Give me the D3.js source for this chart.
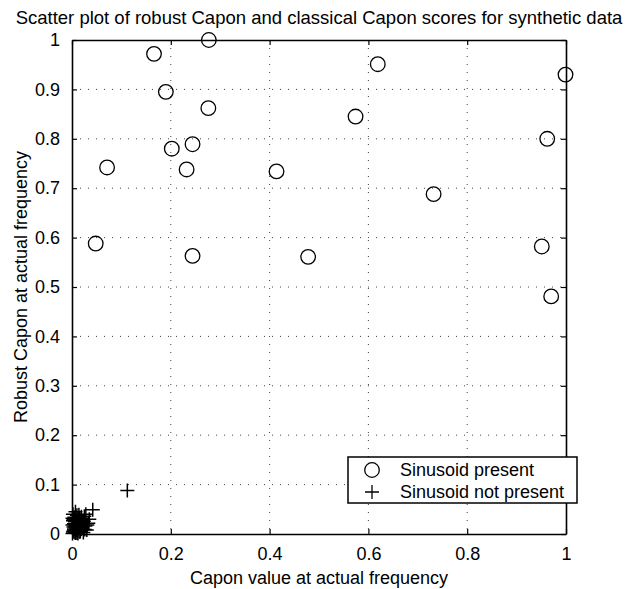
<!DOCTYPE html>
<html>
<head>
<meta charset="utf-8">
<script src="https://cdn.jsdelivr.net/npm/d3@7"></script>
<style>
  body { margin: 0; background: #fff; }
  svg text { font-family: "Liberation Sans", Arial, Helvetica, sans-serif; fill: #000; }
</style>
</head>
<body>
<div id="chart"></div>
<script>
// data
var presentX = [0.166, 0.277, 0.190, 0.276, 0.071, 0.202, 0.244, 0.232, 0.414, 0.048, 0.244, 0.478,
                0.619, 0.999, 0.574, 0.962, 0.732, 0.951, 0.970];
var presentY = [0.972, 1.000, 0.895, 0.862, 0.742, 0.780, 0.789, 0.738, 0.734, 0.588, 0.563, 0.561,
                0.951, 0.930, 0.845, 0.800, 0.688, 0.582, 0.481];

var notPresentX = [0.112, 0.042, 0.035, 0.028, 0.031, 0.024, 0.019, 0.022, 0.015, 0.012, 0.009, 0.006,
                   0.004, 0.002, 0.001, 0.003, 0.008, 0.011, 0.014, 0.017, 0.020, 0.026, 0.010, 0.005,
                   0.007, 0.013, 0.016, 0.018, 0.009, 0.004, 0.021, 0.025, 0.012, 0.006, 0.002, 0.015,
                   0.030, 0.008, 0.003, 0.011, 0.001, 0.005, 0.018, 0.023, 0.002, 0.007, 0.010, 0.014,
                   0.001, 0.004, 0.027, 0.033, 0.006, 0.019, 0.003, 0.012, 0.008, 0.016];
var notPresentY = [0.088, 0.049, 0.030, 0.040, 0.018, 0.026, 0.035, 0.012, 0.022, 0.031, 0.016, 0.025,
                   0.010, 0.004, 0.018, 0.029, 0.007, 0.020, 0.013, 0.006, 0.027, 0.009, 0.038, 0.034,
                   0.002, 0.024, 0.004, 0.017, 0.011, 0.021, 0.015, 0.036, 0.001, 0.014, 0.027, 0.033,
                   0.008, 0.028, 0.006, 0.012, 0.001, 0.019, 0.024, 0.003, 0.040, 0.045, 0.002, 0.039,
                   0.032, 0.008, 0.016, 0.022, 0.003, 0.010, 0.014, 0.006, 0.016, 0.030];

var xTicks = [0, 0.2, 0.4, 0.6, 0.8, 1];
var yTicks = [0, 0.1, 0.2, 0.3, 0.4, 0.5, 0.6, 0.7, 0.8, 0.9, 1];
var legendLabels = ["Sinusoid present", "Sinusoid not present"];

var W = 627, H = 589;
var margin = {left: 72, top: 40, right: 61, bottom: 55};
var width = W - margin.left - margin.right,
    height = H - margin.top - margin.bottom;

var svg = d3.select("#chart").append("svg")
    .attr("width", W)
    .attr("height", H);

var g = svg.append("g")
    .attr("transform", "translate(" + margin.left + "," + margin.top + ")");

var x = d3.scaleLinear().domain([0, 1]).range([0, width]);
var y = d3.scaleLinear().domain([0, 1]).range([height, 0]);

// dotted grid
g.selectAll(".gx").data(xTicks.slice(1, -1)).enter().append("line")
    .attr("x1", d => x(d)).attr("x2", d => x(d))
    .attr("y1", 0).attr("y2", height)
    .attr("stroke", "#444").attr("stroke-width", 1)
    .attr("stroke-dasharray", "1,7");
g.selectAll(".gy").data(yTicks.slice(1, -1)).enter().append("line")
    .attr("x1", 0).attr("x2", width)
    .attr("y1", d => y(d)).attr("y2", d => y(d))
    .attr("stroke", "#444").attr("stroke-width", 1)
    .attr("stroke-dasharray", "1,7");

var fmt = d => d3.format("~g")(d);

// axes, matlab style inward ticks on all four sides
var xAxis = g.append("g")
    .attr("transform", "translate(0," + height + ")")
    .call(d3.axisBottom(x).tickValues(xTicks).tickFormat(fmt).tickSizeInner(-5).tickSizeOuter(0).tickPadding(13));
var xTop = g.append("g")
    .call(d3.axisTop(x).tickValues(xTicks).tickFormat("").tickSizeInner(-5).tickSizeOuter(0));
var yAxis = g.append("g")
    .call(d3.axisLeft(y).tickValues(yTicks).tickFormat(fmt).tickSizeInner(-5).tickSizeOuter(0).tickPadding(12));
var yRight = g.append("g")
    .attr("transform", "translate(" + width + ",0)")
    .call(d3.axisRight(y).tickValues(yTicks).tickFormat("").tickSizeInner(-5).tickSizeOuter(0));

[xAxis, xTop, yAxis, yRight].forEach(function(a) {
  a.select(".domain").attr("stroke", "#000").attr("stroke-width", 1.6);
  a.selectAll(".tick line").attr("stroke", "#000").attr("stroke-width", 1.2);
  a.selectAll("text").style("font-size", "18px").attr("fill", "#000");
});

// not present: plus markers
g.selectAll(".plus")
    .data(notPresentX.map((v, i) => [v, notPresentY[i]]))
    .enter().append("path")
    .attr("transform", d => "translate(" + x(d[0]) + "," + y(d[1]) + ")")
    .attr("d", "M-7,0H7M0,-7V7")
    .attr("stroke", "#000").attr("stroke-width", 1.5).attr("fill", "none");

// present: open circles
g.selectAll(".circ")
    .data(presentX.map((v, i) => [v, presentY[i]]))
    .enter().append("circle")
    .attr("cx", d => x(d[0]))
    .attr("cy", d => y(d[1]))
    .attr("r", 7.3)
    .attr("fill", "none").attr("stroke", "#000").attr("stroke-width", 1.3);

// title and axis labels
svg.append("text")
    .attr("x", margin.left + width / 2).attr("y", 24)
    .attr("text-anchor", "middle").style("font-size", "18.5px")
    .text("Scatter plot of robust Capon and classical Capon scores for synthetic data");
svg.append("text")
    .attr("x", margin.left + width / 2).attr("y", 584)
    .attr("text-anchor", "middle").style("font-size", "18px")
    .text("Capon value at actual frequency");
svg.append("text")
    .attr("transform", "translate(27," + (margin.top + height / 2) + ") rotate(-90)")
    .attr("text-anchor", "middle").style("font-size", "18px")
    .text("Robust Capon at actual frequency");

// legend
var leg = svg.append("g").attr("transform", "translate(348,457)");
leg.append("rect")
    .attr("width", 229).attr("height", 46)
    .attr("fill", "#fff").attr("stroke", "#000").attr("stroke-width", 1.5);
leg.append("circle").attr("cx", 24).attr("cy", 13).attr("r", 7.3)
    .attr("fill", "none").attr("stroke", "#000").attr("stroke-width", 1.3);
leg.append("path").attr("d", "M17,35H31M24,28V42")
    .attr("stroke", "#000").attr("stroke-width", 1.3);
leg.selectAll(".lt").data(legendLabels).enter().append("text")
    .attr("x", 52).attr("y", (d, i) => 19 + i * 22)
    .style("font-size", "18px")
    .text(d => d);
</script>
</body>
</html>
